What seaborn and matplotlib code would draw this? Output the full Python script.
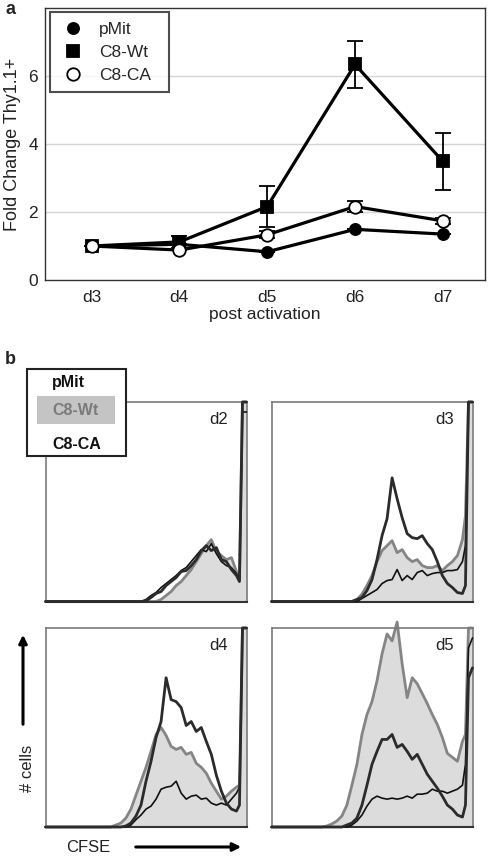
import matplotlib
matplotlib.use("Agg")
import matplotlib.pyplot as plt
import seaborn as sns
import numpy as np
import pandas as pd
from matplotlib.patches import Rectangle, FancyArrowPatch

sns.set_style("white")
plt.rcParams['font.family'] = ['Liberation Sans', 'DejaVu Sans']

# ---------------- Panel a data ----------------
days = ["d3", "d4", "d5", "d6", "d7"]
pmit_vals = [1.0, 1.05, 0.83, 1.49, 1.35]
pmit_err = [0.0, 0.0, 0.0, 0.0, 0.0]
wt_vals = [1.0, 1.12, 2.16, 6.34, 3.49]
wt_err = [0.0, 0.18, 0.6, 0.7, 0.84]
ca_vals = [1.0, 0.88, 1.33, 2.16, 1.74]
ca_err = [0.0, 0.0, 0.1, 0.17, 0.08]
yticks_a = [0, 2, 4, 6]

# ---------------- Panel b data (CFSE histograms, % of max) ----------------
cfse_x = [0, 25, 27.5, 30, 32.5, 35, 37.5, 40, 42.5, 45, 47.5, 50, 52.5, 55, 57.5,
          60, 62.5, 65, 67.5, 70, 72.5, 75, 77.5, 80, 82.5, 85, 87.5, 90, 92.5, 95,
          96.5, 98, 100]
hist_days = ["d2", "d3", "d4", "d5"]

d2_wt = [0, 0, 0, 0, 0, 0, 0, 0, 0, 0, 0, 0, 0, 0, 1,
         3, 5, 8, 10, 13, 16, 20, 24, 28, 31, 25, 23, 21, 22, 15,
         11, 100, 100]
d2_pmit = [0, 0, 0, 0, 0, 0, 0, 0, 0, 0, 0, 0.3, 2, 4, 5,
           8, 10, 12, 15, 15.5, 18, 21, 25.5, 28, 25.5, 27, 21, 20, 16, 13,
           10, 100, 100]
d2_ca = [0, 0, 0, 0, 0, 0, 0, 0, 0, 0, 0, 1, 3, 4.5, 7,
         9, 11, 13, 15.5, 17, 20, 23, 26, 25, 29, 24, 20, 18, 17, 14,
         10.5, 95, 95]

d3_wt = [0, 0, 0, 0, 0, 0, 0, 0, 1, 3.7, 8, 13, 20, 25.5, 28,
         30.5, 24.5, 26, 22, 20, 21, 18, 17, 17, 18, 15.5, 18, 20, 23, 31,
         43, 100, 100]
d3_pmit = [0, 0, 0, 0, 0, 0, 0, 0, 1, 2, 5.5, 11, 21, 33, 41.5,
           62, 51.5, 42, 34, 32, 31.5, 33, 29, 26, 20, 13, 9, 7, 4.5, 4,
           8, 100, 100]
d3_ca = [0, 0, 0, 0, 0, 0, 0, 0, 0, 1.5, 3, 4.5, 6, 9, 10.5,
         11, 16, 10.5, 13, 11, 14.5, 15.5, 13, 14, 14.5, 14.5, 15.5, 15.5, 16, 20,
         28, 100, 100]

d4_wt = [0, 0, 0, 0, 0, 1, 2, 4.5, 9, 16, 23, 30, 38, 46.5, 50,
         46, 40.5, 39, 40, 36.5, 37.5, 32, 30, 27, 22, 18, 14, 15.5, 18, 20,
         21, 100, 100]
d4_pmit = [0, 0, 0, 0, 0, 0, 0, 0.5, 2, 5.5, 11, 23, 33, 45, 53,
           75, 64, 63, 60, 51, 53, 48, 50, 43, 36.5, 26, 18, 12, 9, 8,
           11, 100, 100]
d4_ca = [0, 0, 0, 0, 0, 0, 0, 0, 1, 3.7, 6, 9, 10.5, 14, 19,
         20, 20.5, 23, 17, 14, 15.5, 16, 14, 14.5, 12, 11, 12, 11, 14, 17,
         20, 100, 100]

d5_wt = [0, 0, 0.5, 1.5, 3, 5.5, 11, 21, 31.5, 46.5, 56.5, 63, 73.5, 87, 97,
         93.5, 103, 82, 65, 75, 72, 67, 62, 56.5, 51.5, 45, 37, 35, 33, 43,
         46.5, 100, 100]
d5_pmit = [0, 0, 0, 0, 0, 0, 1, 2, 4.5, 11, 21, 31.5, 38, 44, 44,
           46.5, 40, 41.5, 38, 34, 36.5, 31.5, 26.5, 23, 19.5, 15.5, 11, 9, 6, 5,
           11, 75, 80]
d5_ca = [0, 0, 0, 0, 0, 0, 0, 1, 3, 6, 10.5, 14, 15.5, 14.5, 14,
         14.5, 14, 14.5, 15.5, 14.5, 16.5, 16.5, 17, 19, 18, 18, 17, 18, 19, 21,
         31.5, 90, 95]

hist_data = {
    "d2": (d2_wt, d2_pmit, d2_ca),
    "d3": (d3_wt, d3_pmit, d3_ca),
    "d4": (d4_wt, d4_pmit, d4_ca),
    "d5": (d5_wt, d5_pmit, d5_ca),
}
legend_b = ["pMit", "C8-Wt", "C8-CA"]

W, H = 488, 856
fig = plt.figure(figsize=(W / 100, H / 100), dpi=100)


def rect(x0, y0, x1, y1):
    return [x0 / W, 1 - y1 / H, (x1 - x0) / W, (y1 - y0) / H]


# ---------------- Panel a ----------------
ax = fig.add_axes(rect(45, 8, 485, 280))
xpos = np.arange(len(days))
for y in [2, 4, 6]:
    ax.axhline(y, color="#d4d4d4", lw=1.0, zorder=0)

series = [
    ("pMit", pmit_vals, pmit_err, dict(marker="o", mfc="black", mec="black", ms=8)),
    ("C8-Wt", wt_vals, wt_err, dict(marker="s", mfc="black", mec="black", ms=8.5)),
    ("C8-CA", ca_vals, ca_err, dict(marker="o", mfc="white", mec="black", ms=9)),
]
handles = []
for z, (name, vals, err, mk) in enumerate(series):
    ax.errorbar(xpos, vals, yerr=err, fmt="none", ecolor="black", elinewidth=1.3,
                capsize=5.5, capthick=1.3, zorder=2 + z)
    sns.lineplot(x=xpos, y=vals, ax=ax, color="black", lw=2.3, marker=mk["marker"],
                 markerfacecolor=mk["mfc"], markeredgecolor=mk["mec"], markersize=mk["ms"],
                 markeredgewidth=1.3, zorder=3 + z, legend=False)
    handles.append(plt.Line2D([], [], ls="none", marker=mk["marker"], mfc=mk["mfc"],
                              mec=mk["mec"], ms=mk["ms"], mew=1.3, label=name))

ax.set_xlim(-0.53, 4.48)
ax.set_ylim(0, 8)
ax.set_xticks(xpos)
ax.set_xticklabels(days, fontsize=12.5)
ax.set_yticks(yticks_a)
ax.set_yticklabels([str(t) for t in yticks_a], fontsize=12.5)
ax.tick_params(axis="x", length=0, pad=7, colors="#222222")
ax.tick_params(axis="y", length=0, pad=5, colors="#222222")
ax.set_xlabel("post activation", fontsize=12.5, color="#222222", labelpad=2)
ax.set_ylabel("Fold Change Thy1.1+", fontsize=13, color="#222222", labelpad=5)
for s in ax.spines.values():
    s.set_color("#333333")
    s.set_linewidth(1.0)
leg = ax.legend(handles=handles, loc="upper left", bbox_to_anchor=(0.011, 0.695, 0.27, 0.29),
                mode="expand", fontsize=12.5, frameon=True, fancybox=False, handletextpad=0.7,
                borderpad=0.55, labelspacing=0.45, handlelength=1.6, borderaxespad=0)
leg.get_frame().set_edgecolor("#222222")
leg.get_frame().set_linewidth(1.5)
fig.text(5 / W, 1 - 9 / H, "a", fontsize=13, fontweight="bold", ha="left", va="center")

# ---------------- Panel b ----------------
boxes = {
    "d2": (45.5, 402, 246.5, 601.5),
    "d3": (271.5, 402, 472.5, 601.5),
    "d4": (45.5, 628, 246.5, 827),
    "d5": (271.5, 628, 472.5, 827),
}
for d in hist_days:
    x0, y0, x1, y1 = boxes[d]
    hx = fig.add_axes(rect(x0, y0, x1, y1))
    wt, pm, ca = hist_data[d]
    hx.fill_between(cfse_x, 0, wt, color="#dcdcdc", lw=0, zorder=1)
    sns.lineplot(x=cfse_x, y=wt, ax=hx, color="#858585", lw=2.0, zorder=2,
                 estimator=None, sort=False)
    sns.lineplot(x=cfse_x, y=ca, ax=hx, color="#111111", lw=1.2, zorder=3,
                 estimator=None, sort=False)
    sns.lineplot(x=cfse_x, y=pm, ax=hx, color="#2b2b2b", lw=2.0, zorder=4,
                 estimator=None, sort=False)
    for ln in hx.lines:
        ln.set_clip_on(False)
    hx.set_xlim(0, 100)
    hx.set_ylim(0, 100)
    hx.set_xticks([])
    hx.set_yticks([])
    hx.set_xlabel("")
    hx.set_ylabel("")
    for s in hx.spines.values():
        s.set_color("#7a7a7a")
        s.set_linewidth(1.2)
    hx.spines["bottom"].set_color("#333333")
    hx.spines["bottom"].set_linewidth(1.5)
    hx.text(0.86, 0.91, d, transform=hx.transAxes, fontsize=12, ha="center",
            va="center", color="#222222", zorder=6)

fig.text(5 / W, 1 - 360 / H, "b", fontsize=13, fontweight="bold", ha="left", va="center")

# legend for panel b
fig.patches.append(Rectangle((27 / W, 1 - 456 / H), 99 / W, 87 / H, transform=fig.transFigure,
                             facecolor="white", edgecolor="#222222", lw=1.5, zorder=10))
fig.patches.append(Rectangle((37 / W, 1 - 424 / H), 78 / W, 28 / H, transform=fig.transFigure,
                             facecolor="#c4c4c4", edgecolor="none", zorder=11))
label_colors = ["#111111", "#7a7a7a", "#111111"]
label_y = [382, 410, 445]
for lab, col, ly in zip(legend_b, label_colors, label_y):
    fig.text(52 / W, 1 - ly / H, lab, fontsize=11.5, fontweight="bold", color=col,
             ha="left", va="center", zorder=12)

# axis arrows
fig.patches.append(FancyArrowPatch((23 / W, 1 - 727 / H), (23 / W, 1 - 632 / H),
                                   transform=fig.transFigure, arrowstyle="-|>",
                                   mutation_scale=12, lw=2.2, color="black"))
fig.text(27 / W, 1 - 768 / H, "# cells", rotation=90, fontsize=12, ha="center",
         va="center", color="#222222")
fig.patches.append(FancyArrowPatch((133 / W, 1 - 847 / H), (244 / W, 1 - 847 / H),
                                   transform=fig.transFigure, arrowstyle="-|>",
                                   mutation_scale=12, lw=2.2, color="black"))
fig.text(88 / W, 1 - 847 / H, "CFSE", fontsize=12, ha="center", va="center",
         color="#222222")

fig.savefig("out.png", dpi=100)
